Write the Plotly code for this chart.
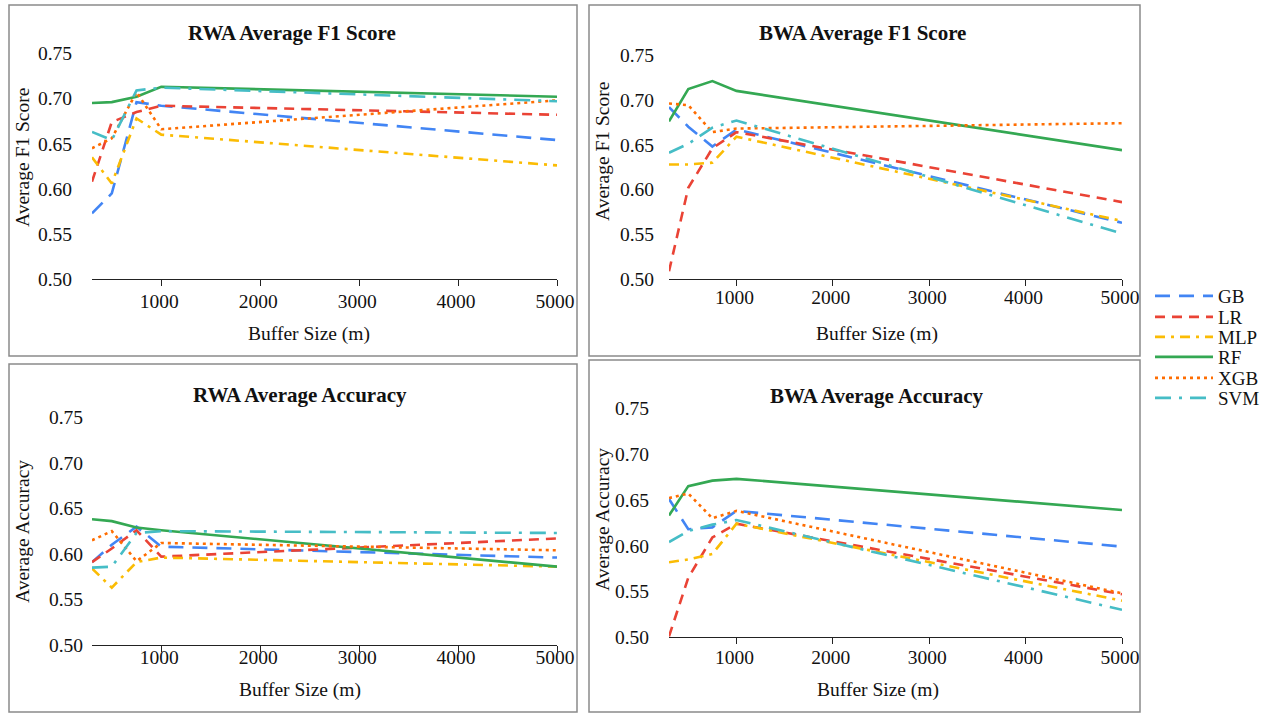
import plotly.graph_objects as go

W, H = 1272, 714

buffer_sizes = [300, 500, 750, 1000, 5000]
models = ["GB", "LR", "MLP", "RF", "XGB", "SVM"]
x_tick_vals = [1000, 2000, 3000, 4000, 5000]
y_tick_vals = [0.50, 0.55, 0.60, 0.65, 0.70, 0.75]

# RWA Average F1 Score
rwa_f1_gb = [0.573, 0.595, 0.696, 0.692, 0.654]
rwa_f1_lr = [0.608, 0.674, 0.685, 0.692, 0.682]
rwa_f1_mlp = [0.635, 0.606, 0.678, 0.660, 0.626]
rwa_f1_rf = [0.695, 0.696, 0.702, 0.713, 0.702]
rwa_f1_xgb = [0.645, 0.656, 0.707, 0.666, 0.698]
rwa_f1_svm = [0.663, 0.654, 0.709, 0.712, 0.697]

# BWA Average F1 Score
bwa_f1_gb = [0.692, 0.670, 0.648, 0.667, 0.563]
bwa_f1_lr = [0.509, 0.602, 0.646, 0.664, 0.586]
bwa_f1_mlp = [0.628, 0.628, 0.630, 0.659, 0.565]
bwa_f1_rf = [0.676, 0.712, 0.721, 0.710, 0.644]
bwa_f1_xgb = [0.696, 0.694, 0.664, 0.668, 0.674]
bwa_f1_svm = [0.641, 0.651, 0.669, 0.677, 0.551]

# RWA Average Accuracy
rwa_acc_gb = [0.591, 0.610, 0.630, 0.608, 0.596]
rwa_acc_lr = [0.591, 0.606, 0.626, 0.597, 0.617]
rwa_acc_mlp = [0.584, 0.563, 0.591, 0.596, 0.586]
rwa_acc_rf = [0.638, 0.636, 0.629, 0.626, 0.586]
rwa_acc_xgb = [0.615, 0.625, 0.592, 0.612, 0.604]
rwa_acc_svm = [0.585, 0.586, 0.623, 0.625, 0.623]

# BWA Average Accuracy
bwa_acc_gb = [0.651, 0.618, 0.620, 0.638, 0.599]
bwa_acc_lr = [0.501, 0.565, 0.609, 0.624, 0.547]
bwa_acc_mlp = [0.582, 0.585, 0.591, 0.624, 0.540]
bwa_acc_rf = [0.633, 0.665, 0.671, 0.673, 0.639]
bwa_acc_xgb = [0.652, 0.657, 0.630, 0.638, 0.548]
bwa_acc_svm = [0.604, 0.616, 0.623, 0.628, 0.530]

panel_titles = ["RWA Average F1 Score", "BWA Average F1 Score",
                "RWA Average Accuracy", "BWA Average Accuracy"]
y_titles = ["Average F1 Score", "Average F1 Score", "Average Accuracy", "Average Accuracy"]
x_title = "Buffer Size (m)"

panels = [
    [rwa_f1_gb, rwa_f1_lr, rwa_f1_mlp, rwa_f1_rf, rwa_f1_xgb, rwa_f1_svm],
    [bwa_f1_gb, bwa_f1_lr, bwa_f1_mlp, bwa_f1_rf, bwa_f1_xgb, bwa_f1_svm],
    [rwa_acc_gb, rwa_acc_lr, rwa_acc_mlp, rwa_acc_rf, rwa_acc_xgb, rwa_acc_svm],
    [bwa_acc_gb, bwa_acc_lr, bwa_acc_mlp, bwa_acc_rf, bwa_acc_xgb, bwa_acc_svm],
]

colors = {"GB": "#4285F4", "LR": "#EA4335", "MLP": "#FBBC04",
          "RF": "#34A853", "XGB": "#FF6D01", "SVM": "#46BDC6"}
dashes = {"GB": "15px,9px", "LR": "10px,7px", "MLP": "10px,6px,3px,6px",
          "RF": "solid", "XGB": "3px,4px", "SVM": "16px,8px,3px,8px"}

FONT = "Liberation Serif, Times New Roman, Times, DejaVu Serif, serif"

# plot areas in pixels: (left, right, top(0.75), bottom(0.50))
areas = [(92, 557, 53.3, 279.3), (669, 1122, 55, 279.3),
         (92, 557, 417.3, 645), (669, 1122, 408.3, 637.3)]
boxes = [(9, 5, 577, 356), (589, 5, 1140, 356), (9, 364, 577, 712), (589, 360, 1140, 712)]
title_pos = [(292, 33), (862, 33), (300, 395), (877, 396)]
ytitle_pos = [(22, 158), (602, 152), (22, 532), (602, 520)]
xtitle_pos = [(309, 334), (877, 334), (300, 690), (878, 690)]
ystandoff = [19, 14, 8, 19]
xstandoff = [4, 0, -6, 2]
TICKLEN = 6
legend_rows = [296, 317, 337, 357, 378, 398]
legend_left = 1150


def px(x):
    return x / W


def py(y):
    return 1 - y / H


fig = go.Figure()
layout = {}
annotations = []
shapes = []

for i, series in enumerate(panels):
    n = i + 1
    xa = "x" if n == 1 else f"x{n}"
    ya = "y" if n == 1 else f"y{n}"
    for k, (m, vals) in enumerate(zip(models, series)):
        fig.add_trace(go.Scatter(
            x=buffer_sizes, y=vals, mode="lines", name=m,
            line=dict(color=colors[m], width=2.6, dash=dashes[m]),
            xaxis=xa, yaxis=ya, showlegend=(i == 0), legendgroup=m,
            legend="legend" if k == 0 else f"legend{k + 1}",
        ))
    l, r, t, b = areas[i]
    layout[f"xaxis{n}"] = dict(
        domain=[px(l), px(r)], anchor=ya, range=[300, 5000],
        tickvals=x_tick_vals, ticks="outside", ticklen=TICKLEN, tickwidth=1.3,
        tickcolor="#222", ticklabelstandoff=xstandoff[i] - TICKLEN,
        ticklabelshift=-2,
        showline=True, linecolor="#222", linewidth=1.3,
        showgrid=False, zeroline=False, automargin=False,
        tickfont=dict(family=FONT, size=19.5, color="#111"),
    )
    layout[f"xaxis{n + 4}"] = dict(
        overlaying=xa, anchor=ya, range=[300, 5000], tickvals=x_tick_vals,
        ticks="inside", ticklen=TICKLEN, tickwidth=1.3, tickcolor="#222",
        showticklabels=False, showline=False, showgrid=False, zeroline=False,
        automargin=False,
    )
    layout[f"yaxis{n}"] = dict(
        domain=[py(b), py(t)], anchor=xa, range=[0.5, 0.75],
        tickvals=y_tick_vals, tickformat=".2f", ticks="",
        showline=False, showgrid=False, zeroline=False, automargin=False,
        ticklabelstandoff=ystandoff[i],
        tickfont=dict(family=FONT, size=19.5, color="#111"),
    )
    x0, y0, x1, y1 = boxes[i]
    shapes.append(dict(type="rect", xref="paper", yref="paper",
                       x0=px(x0), x1=px(x1), y0=py(y1), y1=py(y0),
                       line=dict(color="#8a8a8a", width=1.5)))
    tx, ty = title_pos[i]
    annotations.append(dict(text=f"<b>{panel_titles[i]}</b>", x=px(tx), y=py(ty),
                            xref="paper", yref="paper", showarrow=False,
                            xanchor="center", yanchor="middle",
                            font=dict(family=FONT, size=21, color="#111")))
    yx, yy = ytitle_pos[i]
    annotations.append(dict(text=y_titles[i], x=px(yx), y=py(yy), textangle=-90,
                            xref="paper", yref="paper", showarrow=False,
                            xanchor="center", yanchor="middle",
                            font=dict(family=FONT, size=19.5, color="#111")))
    xx, xy = xtitle_pos[i]
    annotations.append(dict(text=x_title, x=px(xx), y=py(xy),
                            xref="paper", yref="paper", showarrow=False,
                            xanchor="center", yanchor="middle",
                            font=dict(family=FONT, size=19.5, color="#111")))

layout["xaxis"] = layout.pop("xaxis1")
layout["yaxis"] = layout.pop("yaxis1")

for k, row_y in enumerate(legend_rows):
    key = "legend" if k == 0 else f"legend{k + 1}"
    layout[key] = dict(
        x=px(legend_left), y=py(row_y), xanchor="left", yanchor="middle",
        font=dict(family=FONT, size=19, color="#111"), itemwidth=58,
        bgcolor="rgba(0,0,0,0)", borderwidth=0,
    )

fig.update_layout(
    width=W, height=H, margin=dict(l=0, r=0, t=0, b=0, autoexpand=False),
    paper_bgcolor="white", plot_bgcolor="white",
    showlegend=True,
    annotations=annotations, shapes=shapes,
    **layout,
)

fix_page = (
    "document.documentElement.style.margin='0';"
    "document.body.style.margin='0';"
    "document.body.style.overflow='hidden';"
    "var gd=document.getElementById('{plot_id}');"
    "gd.style.position='absolute';gd.style.left='0px';gd.style.top='0px';"
)

fig.write_html("out.html", post_script=fix_page, config={"displayModeBar": False})
